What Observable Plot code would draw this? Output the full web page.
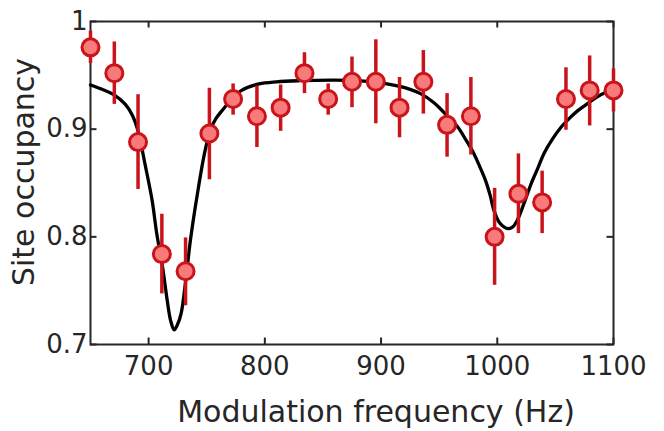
<!DOCTYPE html>
<html>
<head>
<meta charset="utf-8">
<script src="https://cdn.jsdelivr.net/npm/d3@7"></script>
<script src="https://cdn.jsdelivr.net/npm/@observablehq/plot@0.6"></script>
<style>
  html, body { margin: 0; padding: 0; background: #fff; }
  #chart { width: 664px; height: 431px; }
</style>
</head>
<body>
<div id="chart"></div>
<script>
// Measured data points: modulation frequency (Hz), site occupancy, error bar ends
const freq = [650, 670.5, 690.9, 711.4, 731.8, 752.3, 772.7, 793.2, 813.6, 834.1, 854.5, 875,
              895.5, 915.9, 936.4, 956.8, 977.3, 997.7, 1018.2, 1038.6, 1059.1, 1079.5, 1100];
const occ  = [0.976, 0.952, 0.888, 0.784, 0.768, 0.896, 0.928, 0.912, 0.920, 0.952, 0.928, 0.944,
              0.944, 0.920, 0.944, 0.904, 0.912, 0.800, 0.840, 0.832, 0.928, 0.936, 0.936];
const errHi = [0.991, 0.981, 0.932, 0.821, 0.799, 0.938, 0.942, 0.940, 0.941, 0.971, 0.942, 0.967,
               0.983, 0.948, 0.973, 0.933, 0.948, 0.845, 0.877, 0.861, 0.957, 0.968, 0.956];
const errLo = [0.961, 0.923, 0.844, 0.747, 0.736, 0.853, 0.913, 0.883, 0.898, 0.933, 0.913, 0.920,
               0.905, 0.892, 0.914, 0.874, 0.876, 0.755, 0.803, 0.803, 0.899, 0.903, 0.916];

// Fit curve
const fitX = [650, 660, 670, 680, 686, 691, 697, 703, 707, 712, 716, 719, 722, 725, 728, 732, 736,
              742, 748, 753, 758, 763, 770, 780, 795, 810, 830, 860, 880, 900, 915, 925, 934, 945,
              951, 958, 966, 973, 980, 985, 990, 994, 997, 1002, 1006, 1009, 1013, 1017, 1023, 1029,
              1035, 1040, 1047, 1055, 1062, 1069, 1078, 1086, 1093, 1100];
const fitY = [0.941, 0.937, 0.932, 0.923, 0.913, 0.898, 0.867, 0.834, 0.803, 0.772, 0.741, 0.722,
              0.7135, 0.719, 0.729, 0.760, 0.797, 0.840, 0.877, 0.899, 0.910, 0.917, 0.926, 0.936,
              0.942, 0.944, 0.945, 0.9455, 0.945, 0.943, 0.940, 0.937, 0.933, 0.925, 0.919, 0.911,
              0.902, 0.890, 0.877, 0.865, 0.852, 0.838, 0.825, 0.813, 0.809, 0.8076, 0.809, 0.815,
              0.831, 0.849, 0.864, 0.877, 0.890, 0.902, 0.910, 0.917, 0.924, 0.930, 0.934, 0.937];

const xTicks = [700, 800, 900, 1000, 1100];
const yTicks = [0.7, 0.8, 0.9, 1];
const xLabel = "Modulation frequency (Hz)";
const yLabel = "Site occupancy";

const points = freq.map((f, i) => ({f, v: occ[i], lo: errLo[i], hi: errHi[i]}));
const fit = fitX.map((f, i) => ({f, v: fitY[i]}));

const W = 664, H = 431;
const mL = 90, mR = 51, mT = 21, mB = 87;
const frameW = W - mL - mR, frameH = H - mT - mB;
const tickLen = 6.5;
const axisColor = "#262626";
const errColor = "#c8141a";
const dotStroke = "#c8141a";
const dotFill = "#f87a7a";

const chart = Plot.plot({
  width: W,
  height: H,
  marginLeft: mL,
  marginRight: mR,
  marginTop: mT,
  marginBottom: mB,
  style: {fontFamily: "DejaVu Sans", fontSize: "26px", color: axisColor, background: "#fff"},
  x: {domain: [650, 1100]},
  y: {domain: [0.7, 1]},
  marks: [
    Plot.frame({stroke: axisColor, strokeWidth: 2}),
    // inward ticks on all four sides
    Plot.tickX(xTicks, {x: d => d, stroke: axisColor, strokeWidth: 2, insetTop: frameH - tickLen}),
    Plot.tickX(xTicks, {x: d => d, stroke: axisColor, strokeWidth: 2, insetBottom: frameH - tickLen}),
    Plot.tickY(yTicks, {y: d => d, stroke: axisColor, strokeWidth: 2, insetRight: frameW - tickLen}),
    Plot.tickY(yTicks, {y: d => d, stroke: axisColor, strokeWidth: 2, insetLeft: frameW - tickLen}),
    Plot.axisX(xTicks, {tickSize: 0, tickPadding: 12, fontSize: 26, label: null, fill: axisColor,
      tickFormat: d => String(d)}),
    Plot.axisY(yTicks, {tickSize: 0, tickPadding: 3, fontSize: 26, label: null, fill: axisColor,
      tickFormat: d => d === 1 ? "1" : d.toFixed(1)}),
    Plot.line(fit, {x: "f", y: "v", stroke: "black", strokeWidth: 3.3, curve: "catmull-rom"}),
    Plot.ruleX(points, {x: "f", y1: "lo", y2: "hi", stroke: errColor, strokeWidth: 3.5}),
    Plot.dot(points, {x: "f", y: "v", r: 8.5, fill: dotFill, stroke: dotStroke, strokeWidth: 3}),
    Plot.text([xLabel], {text: d => d, frameAnchor: "bottom", lineAnchor: "bottom", dy: 77, dx: 24,
      fontSize: 30, fill: axisColor}),
    Plot.text([yLabel], {text: d => d, frameAnchor: "left", textAnchor: "middle", lineAnchor: "bottom",
      rotate: -90, dx: -57, dy: -11, fontSize: 30, fill: axisColor})
  ]
});
document.getElementById("chart").appendChild(chart);
</script>
</body>
</html>
